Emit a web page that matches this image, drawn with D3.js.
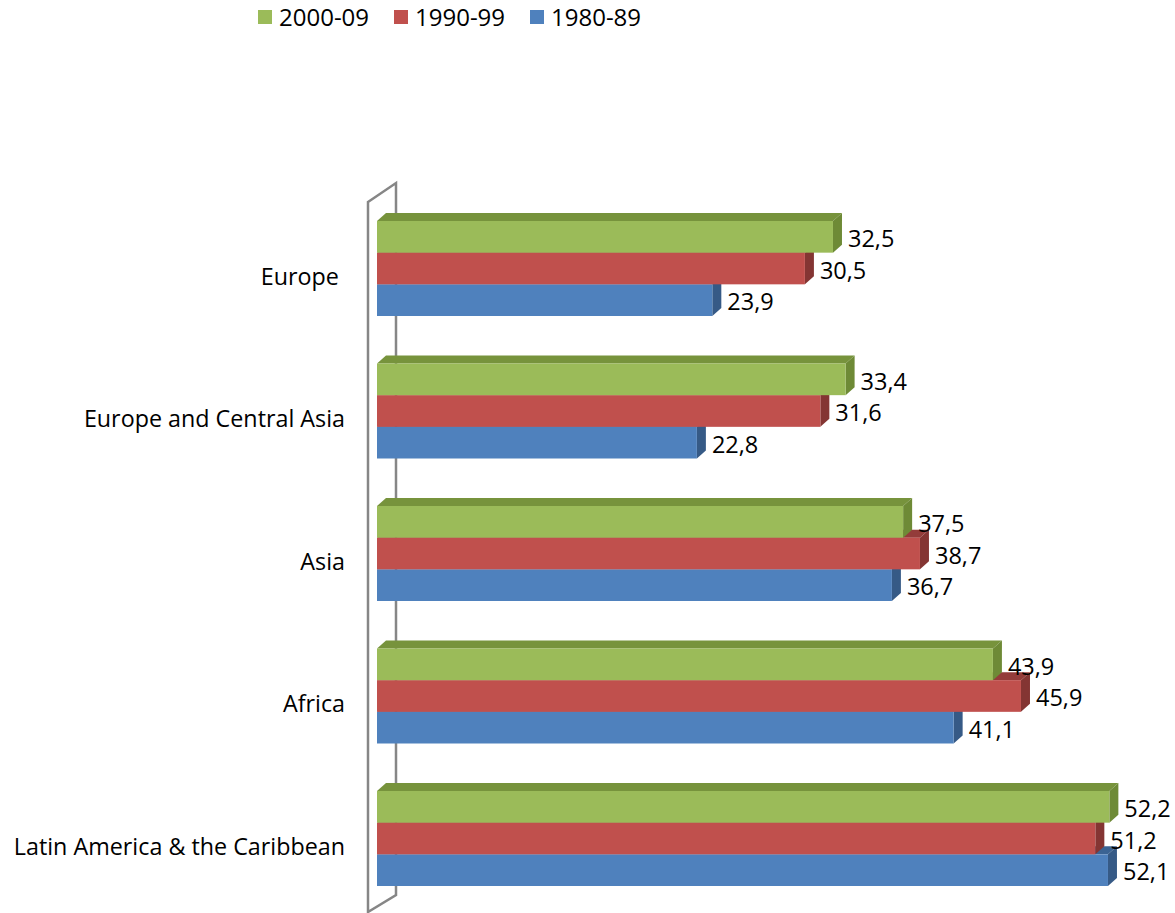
<!DOCTYPE html>
<html>
<head>
<meta charset="utf-8">
<script src="https://cdn.jsdelivr.net/npm/d3@7/dist/d3.min.js"></script>
<style>
  html, body { margin: 0; padding: 0; background: #ffffff; }
  svg { display: block; }
  text { font-family: "Open Sans", "Noto Sans", sans-serif; fill: #000; }
</style>
</head>
<body>
<svg id="chart" width="1175" height="913"></svg>
<script>
// Regions, top to bottom
const categories = ["Europe ", "Europe and Central Asia", "Asia", "Africa", "Latin America & the Caribbean"];
// Decades, drawn top to bottom inside each region
const seriesNames = ["2000-09", "1990-99", "1980-89"];
const values2000s = [32.5, 33.4, 37.5, 43.9, 52.2];
const values1990s = [30.5, 31.6, 38.7, 45.9, 51.2];
const values1980s = [23.9, 22.8, 36.7, 41.1, 52.1];
const seriesValues = [values2000s, values1990s, values1980s];

const frontColors = ["#9BBB59", "#C0504D", "#4F81BD"];
const topColors   = ["#77933C", "#943C3A", "#3B6393"];
const sideColors  = ["#6E8A36", "#843533", "#365A86"];

const svg = d3.select("#chart");

// Plot geometry
const x = d3.scaleLinear().domain([0, 60]).range([377, 377 + 60 * 14.03]);
const y = d3.scaleBand().domain(categories).range([197.25, 909.75])
  .paddingInner(1 / 3).paddingOuter(1 / 6);
const ySeries = d3.scaleBand().domain(seriesNames).range([0, y.bandwidth()]);
const depthX = 9, depthY = 8;

// Side wall of the 3D plot area
const wall = [[368, 202], [396, 183], [396, 895], [368, 912]];
svg.append("path")
  .attr("d", d3.line()(wall) + "Z")
  .attr("fill", "#ffffff")
  .attr("stroke", "#868686")
  .attr("stroke-width", 2.5);

// Bars: lower series first so the upper bars' faces sit on top of them
const bars = [];
categories.forEach((c, i) => {
  seriesNames.forEach((s, j) => {
    bars.push({ cat: c, series: s, j, value: seriesValues[j][i] });
  });
});
bars.sort((a, b) => d3.descending(a.j, b.j));

const fmt = d3.formatLocale({ decimal: ",", thousands: ".", grouping: [3], currency: ["", ""] }).format(".1f");

const g = svg.append("g");
bars.forEach(d => {
  const x0 = x(0), x1 = x(d.value);
  const y0 = y(d.cat) + ySeries(d.series);
  const h = ySeries.bandwidth();
  const bar = g.append("g");
  // top face
  bar.append("path")
    .attr("d", d3.line()([[x0, y0], [x0 + depthX, y0 - depthY], [x1 + depthX, y0 - depthY], [x1, y0]]) + "Z")
    .attr("fill", topColors[d.j]);
  // end face
  bar.append("path")
    .attr("d", d3.line()([[x1, y0], [x1 + depthX, y0 - depthY], [x1 + depthX, y0 + h - depthY], [x1, y0 + h]]) + "Z")
    .attr("fill", sideColors[d.j]);
  // front face
  bar.append("rect")
    .attr("x", x0).attr("y", y0)
    .attr("width", x1 - x0).attr("height", h)
    .attr("fill", frontColors[d.j]);
});

// Value labels
bars.forEach(d => {
  const y0 = y(d.cat) + ySeries(d.series);
  svg.append("text")
    .attr("x", x(d.value) + 15)
    .attr("y", y0 + ySeries.bandwidth() / 2 + 2)
    .attr("dy", "0.35em")
    .attr("font-size", 23.5)
    .text(fmt(d.value));
});

// Category labels
svg.append("g").selectAll("text")
  .data(categories)
  .join("text")
  .attr("x", 345)
  .attr("y", d => y(d) + y.bandwidth() / 2 + 8)
  .attr("dy", "0.35em")
  .attr("text-anchor", "end")
  .attr("font-size", 23.3)
  .style("white-space", "pre")
  .text(d => d);

// Legend
const legendX = [258, 394, 530];
const legend = svg.append("g").selectAll("g")
  .data(seriesNames)
  .join("g")
  .attr("transform", (d, i) => `translate(${legendX[i]},10)`);
legend.append("rect")
  .attr("width", 14).attr("height", 14)
  .attr("fill", (d, i) => frontColors[i]);
legend.append("text")
  .attr("x", 21).attr("y", 8)
  .attr("dy", "0.35em")
  .attr("font-size", 24)
  .text(d => d);
</script>
</body>
</html>
